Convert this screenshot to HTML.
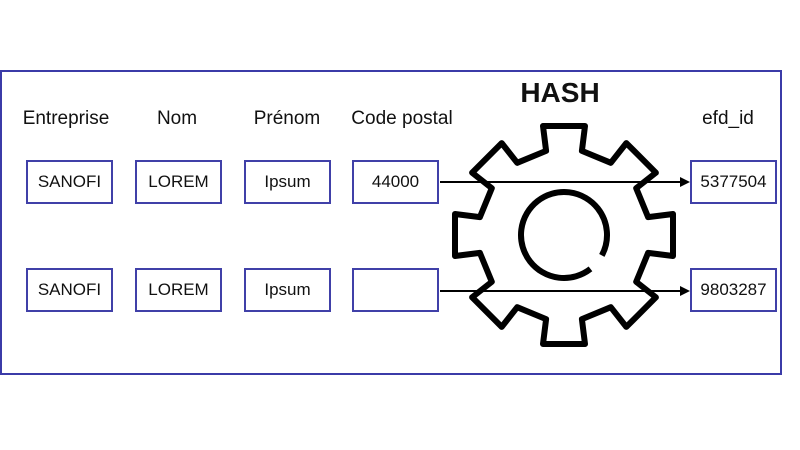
<!DOCTYPE html>
<html><head><style>
body{margin:0;width:800px;height:450px;background:#fff;font-family:"Liberation Sans",sans-serif;position:relative;overflow:hidden}
.frame{position:absolute;left:0;top:70px;width:782px;height:305px;border:2px solid #3b3ba8;box-sizing:border-box}
.lbl{position:absolute;top:108px;font-size:19px;color:#111;transform:translateX(-50%);white-space:nowrap}
.box{position:absolute;width:87px;height:44px;border:2px solid #4040a8;box-sizing:border-box;font-size:17px;color:#111;display:flex;align-items:center;justify-content:center;background:#fff}
</style></head><body>
<div class="frame"></div>
<div class="lbl" style="left:66px">Entreprise</div>
<div class="lbl" style="left:177px">Nom</div>
<div class="lbl" style="left:287px">Prénom</div>
<div class="lbl" style="left:402px">Code postal</div>
<div class="lbl" style="left:728px">efd_id</div>
<div class="lbl" style="left:560px;top:77px;font-size:28px;font-weight:bold">HASH</div>

<div class="box" style="left:26px;top:160px">SANOFI</div>
<div class="box" style="left:135px;top:160px">LOREM</div>
<div class="box" style="left:244px;top:160px">Ipsum</div>
<div class="box" style="left:352px;top:160px">44000</div>
<div class="box" style="left:690px;top:160px">5377504</div>
<div class="box" style="left:26px;top:268px">SANOFI</div>
<div class="box" style="left:135px;top:268px">LOREM</div>
<div class="box" style="left:244px;top:268px">Ipsum</div>
<div class="box" style="left:352px;top:268px"></div>
<div class="box" style="left:690px;top:268px">9803287</div>

<svg width="800" height="450" style="position:absolute;left:0;top:0">
<polygon id="g" fill="none" stroke="#000" stroke-width="6" stroke-linejoin="round"/>
<circle cx="564" cy="235" r="43" fill="none" stroke="#000" stroke-width="6" stroke-dasharray="252 18" transform="rotate(52 564 235)"/>
<line x1="440" y1="182" x2="682" y2="182" stroke="#000" stroke-width="2"/>
<polygon points="690,182 680,177 680,187" fill="#000"/>
<line x1="440" y1="291" x2="682" y2="291" stroke="#000" stroke-width="2"/>
<polygon points="690,291 680,286 680,296" fill="#000"/>
</svg>
<script>
var cx=564,cy=235,pts=[];
for(var i=0;i<8;i++){
 var a=-Math.PI/2+i*Math.PI/4;
 var ang=[[-0.21,86],[-0.19,111],[0.19,111],[0.21,86]];
 ang.forEach(function(p){var t=a+p[0];pts.push((cx+p[1]*Math.cos(t)).toFixed(1)+","+(cy+p[1]*Math.sin(t)).toFixed(1));});
}
document.getElementById('g').setAttribute('points',pts.join(' '));
</script>
</body></html>
